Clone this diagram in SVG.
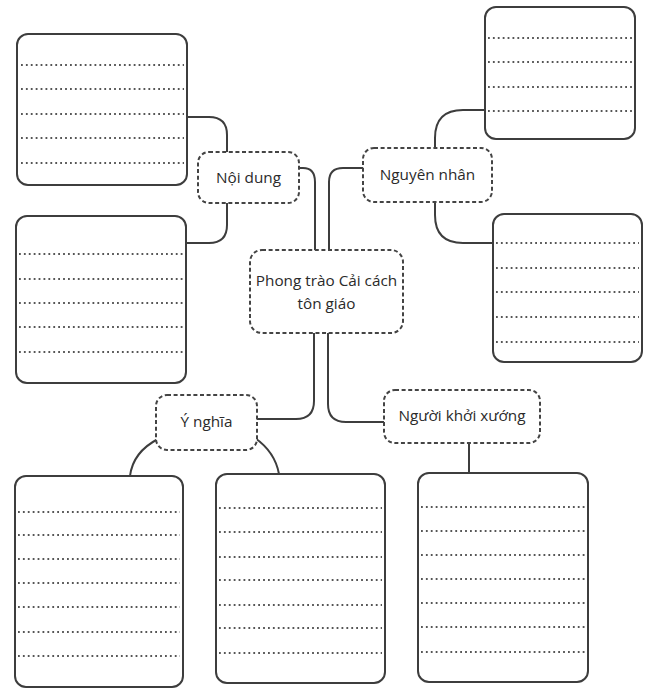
<svg xmlns="http://www.w3.org/2000/svg" width="651" height="694" viewBox="0 0 651 694">
<style>
.box{fill:#fff;stroke:#3d3d3d;stroke-width:2}
.dots{stroke:#555;stroke-width:1.9;stroke-dasharray:1.8 3.1;fill:none}
.node{fill:#fff;stroke:#444;stroke-width:2;stroke-dasharray:4 2.6}
.con{fill:none;stroke:#3d3d3d;stroke-width:2}
.lbl{font-family:"Open Sans","Noto Sans",sans-serif;font-size:15.3px;fill:#2a2a2a;text-anchor:middle}
</style>
<rect width="651" height="694" fill="#fff"/>
<g id="connectors">
<path class="con" d="M187,117 H209 Q227,117 227,135 V152"/>
<path class="con" d="M227,203 V225 Q227,243 209,243 H186"/>
<path class="con" d="M299,168 H303 Q315,168 315,182 V250"/>
<path class="con" d="M363,168 H343 Q329,168 329,182 V250"/>
<path class="con" d="M435,148 V138 Q435,110 463,110 H485"/>
<path class="con" d="M435,202 V215 Q435,243 463,243 H493"/>
<path class="con" d="M314,333 V401 Q314,419 296,419 H257"/>
<path class="con" d="M328,333 V404 Q328,422 346,422 H384"/>
<path class="con" d="M158,439 Q133,452 130,476"/>
<path class="con" d="M255,438 Q275,452 279,474"/>
<path class="con" d="M469,443 V473"/>
</g>
<g id="box-top-left">
<rect class="box" x="17" y="34" width="170" height="151" rx="11"/>
<path class="dots" d="M21,65 H184 M21,89 H184 M21,114 H184 M21,138 H184 M21,163 H184"/>
</g>
<g id="box-mid-left">
<rect class="box" x="16" y="216" width="170" height="167" rx="11"/>
<path class="dots" d="M19,254 H183 M19,279 H183 M19,303 H183 M19,327 H183 M19,352 H183"/>
</g>
<g id="box-top-right">
<rect class="box" x="485" y="7" width="150" height="132" rx="11"/>
<path class="dots" d="M488,38 H632 M488,62 H632 M488,87 H632 M488,111 H632"/>
</g>
<g id="box-mid-right">
<rect class="box" x="493" y="214" width="149" height="148" rx="11"/>
<path class="dots" d="M496,243 H639 M496,268 H639 M496,292 H639 M496,317 H639 M496,342 H639"/>
</g>
<g id="box-bottom-left">
<rect class="box" x="15" y="476" width="168" height="211" rx="11"/>
<path class="dots" d="M18,512 H180 M18,535 H180 M18,559 H180 M18,583 H180 M18,607 H180 M18,632 H180 M18,656 H180"/>
</g>
<g id="box-bottom-mid">
<rect class="box" x="216" y="474" width="169" height="209" rx="11"/>
<path class="dots" d="M219,508 H382 M219,532 H382 M219,557 H382 M219,580 H382 M219,605 H382 M219,628 H382 M219,653 H382"/>
</g>
<g id="box-bottom-right">
<rect class="box" x="418" y="473" width="170" height="209" rx="11"/>
<path class="dots" d="M421,507 H585 M421,531 H585 M421,555 H585 M421,579 H585 M421,603 H585 M421,627 H585 M421,652 H585"/>
</g>
<g id="node-center">
<rect class="node" x="250" y="250" width="153" height="83" rx="12"/>
<text class="lbl" x="326.5" y="286">Phong trào Cải cách</text>
<text class="lbl" x="326.5" y="309">tôn giáo</text>
</g>
<g id="node-noi-dung">
<rect class="node" x="198" y="152" width="101" height="51" rx="11"/>
<text class="lbl" x="248.5" y="183">Nội dung</text>
</g>
<g id="node-nguyen-nhan">
<rect class="node" x="363" y="148" width="129" height="54" rx="11"/>
<text class="lbl" x="427.5" y="180">Nguyên nhân</text>
</g>
<g id="node-y-nghia">
<rect class="node" x="156" y="395" width="101" height="55" rx="11"/>
<text class="lbl" x="206.5" y="427">Ý nghĩa</text>
</g>
<g id="node-nguoi-khoi-xuong">
<rect class="node" x="384" y="390" width="156" height="53" rx="11"/>
<text class="lbl" x="462" y="421">Người khởi xướng</text>
</g>
</svg>
